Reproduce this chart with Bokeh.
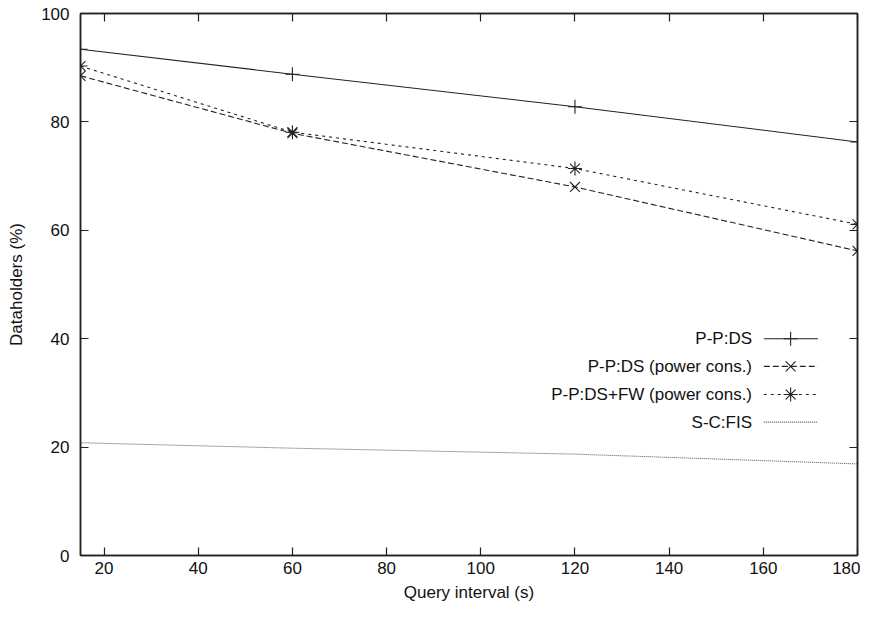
from bokeh.plotting import figure
from bokeh.models import Range1d, LinearAxis, FixedTicker, Label
from bokeh.embed import file_html
from bokeh.resources import INLINE

# Data
query_interval = [15, 60, 120, 180]
pp_ds = [93.4, 88.8, 82.8, 76.3]
pp_ds_power = [88.5, 77.9, 68.0, 56.2]
pp_dsfw_power = [90.3, 78.1, 71.4, 61.1]
sc_fis = [20.8, 19.8, 18.7, 16.9]

x_ticks = [20, 40, 60, 80, 100, 120, 140, 160, 180]
y_ticks = [0, 20, 40, 60, 80, 100]

series_names = ["P-P:DS", "P-P:DS (power cons.)", "P-P:DS+FW (power cons.)", "S-C:FIS"]

FONT = "Liberation Sans"
INK = "#222222"
TXT = "#111111"

p = figure(width=860, height=605, output_backend="svg", toolbar_location=None,
           x_range=Range1d(15, 180), y_range=Range1d(0, 100),
           min_border_left=80, min_border_right=3, min_border_top=13, min_border_bottom=50)
p.grid.visible = False
p.outline_line_color = INK
p.outline_line_width = 1.5

def style_axis(ax, labels=True, ticks=None):
    ax.axis_line_color = INK
    ax.axis_line_width = 1.5
    ax.major_tick_in = 8
    ax.major_tick_out = 0
    ax.major_tick_line_color = INK
    ax.major_tick_line_width = 1.2
    ax.minor_tick_line_color = None
    ax.major_label_text_font = FONT
    ax.major_label_text_font_size = "17px"
    ax.major_label_text_color = TXT
    ax.axis_label_text_font = FONT
    ax.axis_label_text_font_size = "17px"
    ax.axis_label_text_font_style = "normal"
    ax.axis_label_text_color = TXT
    if not labels:
        ax.major_label_overrides = {t: "" for t in ticks}
        ax.major_label_standoff = 0

p.xaxis.ticker = FixedTicker(ticks=x_ticks)
p.yaxis.ticker = FixedTicker(ticks=y_ticks)
p.xaxis.axis_label = "Query interval (s)"
p.yaxis.axis_label = "Dataholders (%)"
style_axis(p.xaxis[0])
style_axis(p.yaxis[0])
p.xaxis.major_label_standoff = 6
p.yaxis.major_label_standoff = 11
p.xaxis.axis_label_standoff = 6
p.yaxis.axis_label_standoff = 12

top = LinearAxis(ticker=FixedTicker(ticks=x_ticks))
style_axis(top, labels=False, ticks=x_ticks)
p.add_layout(top, "above")
right = LinearAxis(ticker=FixedTicker(ticks=y_ticks))
style_axis(right, labels=False, ticks=y_ticks)
p.add_layout(right, "right")

MS = 14
# Series
p.line(query_interval, pp_ds, line_color=INK, line_width=1.1)
p.scatter(query_interval, pp_ds, marker="cross", size=MS, line_color=INK, line_width=1.1)

p.line(query_interval, pp_ds_power, line_color=INK, line_width=1.1, line_dash="6 3")
p.scatter(query_interval, pp_ds_power, marker="x", size=MS, line_color=INK, line_width=1.1)

p.line(query_interval, pp_dsfw_power, line_color=INK, line_width=1.1, line_dash="3 4")
p.scatter(query_interval, pp_dsfw_power, marker="asterisk", size=MS, line_color=INK, line_width=1.1)

p.line(query_interval, sc_fis, line_color="#555555", line_width=1.0, line_dash="1 1")

# Legend (gnuplot style: label right-aligned, sample to the right)
leg_text_x = 157.6
leg_x0, leg_x1, leg_xm = 160.1, 171.6, 165.8
leg_rows = [40.0, 34.9, 29.7, 24.6]
styles = [
    dict(dash="solid", marker="cross"),
    dict(dash="6 3", marker="x"),
    dict(dash="3 4", marker="asterisk"),
    dict(dash="1 1", marker=None),
]
for name, yrow, st in zip(series_names, leg_rows, styles):
    p.add_layout(Label(x=leg_text_x, y=yrow, text=name, text_align="right",
                       text_baseline="middle", text_font=FONT, text_font_size="17px",
                       text_color=TXT))
    col = "#555555" if st["marker"] is None else INK
    p.line([leg_x0, leg_x1], [yrow, yrow], line_color=col, line_width=1.1, line_dash=st["dash"])
    if st["marker"]:
        p.scatter([leg_xm], [yrow], marker=st["marker"], size=MS, line_color=INK, line_width=1.1)

open("out.html", "w").write(file_html(p, INLINE))
